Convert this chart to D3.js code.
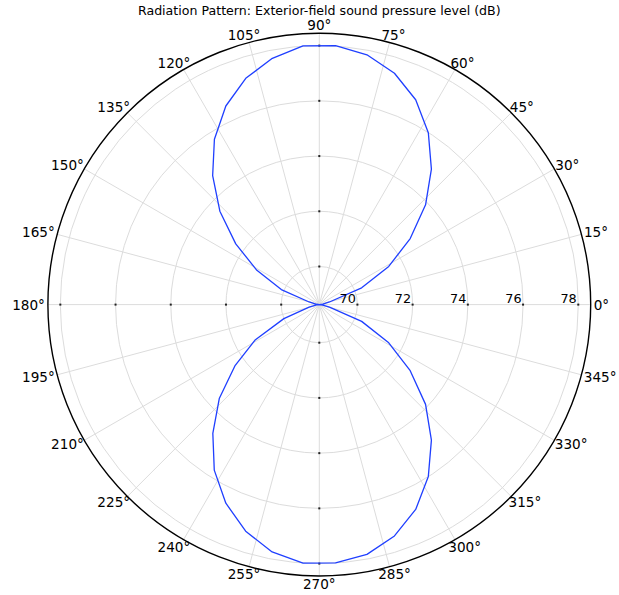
<!DOCTYPE html>
<html>
<head>
<meta charset="utf-8">
<script src="https://cdn.jsdelivr.net/npm/d3@7"></script>
<style>
  html, body { margin: 0; padding: 0; background: #ffffff; }
  svg { display: block; font-family: "DejaVu Sans", sans-serif; }
</style>
</head>
<body>
<svg id="chart" width="619" height="595"></svg>
<script>
// Sampled directions (degrees, counter-clockwise from +x)
const angleDeg = [
  0, 7.2, 14.4, 21.6, 28.8, 36, 43.2, 50.4, 57.6, 64.8, 72, 79.2, 86.4,
  93.6, 100.8, 108, 115.2, 122.4, 129.6, 136.8, 144, 151.2, 158.4, 165.6, 172.8,
  180, 187.2, 194.4, 201.6, 208.8, 216, 223.2, 230.4, 237.6, 244.8, 252, 259.2, 266.4,
  273.6, 280.8, 288, 295.2, 302.4, 309.6, 316.8, 324, 331.2, 338.4, 345.6, 352.8, 360
];

// Exterior-field sound pressure level at each direction (dB)
const splDb = [
  68.62, 68.75, 69.00, 70.27, 71.49, 72.69, 73.90, 74.99, 75.99, 76.82, 77.43, 77.83, 78.02,
  78.01, 77.70, 77.24, 76.57, 75.71, 74.68, 73.56, 72.36, 71.20, 70.10, 69.00, 68.72,
  68.62, 68.72, 69.00, 70.00, 71.26, 72.40, 73.59, 74.67, 75.72, 76.57, 77.25, 77.74, 78.00,
  77.99, 77.83, 77.43, 76.82, 75.99, 74.99, 73.90, 72.69, 71.49, 70.27, 69.00, 68.75, 68.62
];

// Radial axis limits and ticks (dB)
const radialLimits = [68.62, 78.45];
const radialTicks = [70, 72, 74, 76, 78];

// Angular grid / label directions (degrees)
const angleTicks = [0, 15, 30, 45, 60, 75, 90, 105, 120, 135, 150, 165,
                    180, 195, 210, 225, 240, 255, 270, 285, 300, 315, 330, 345];

const titleText = "Radiation Pattern: Exterior-field sound pressure level (dB)";

const svg = d3.select("#chart");
const cx = 319.3, cy = 304.6, R = 271.4;

const r = d3.scaleLinear().domain(radialLimits).range([0, R]);
// compass angle used by d3.lineRadial: 0 at top, clockwise
const toRad = d3.scaleLinear().domain([0, 360]).range([0, 2 * Math.PI]);
const radialAngle = deg => toRad(90 - deg);

const g = svg.append("g").attr("transform", `translate(${cx},${cy})`);

const gridColor = "#dcdcdc";

// concentric rings
g.append("g").selectAll("circle")
  .data(radialTicks)
  .join("circle")
  .attr("r", d => r(d))
  .attr("fill", "none")
  .attr("stroke", gridColor)
  .attr("stroke-width", 1);

// spokes
g.append("g").selectAll("line")
  .data(angleTicks)
  .join("line")
  .attr("x1", 0).attr("y1", 0)
  .attr("x2", d => R * Math.cos(toRad(d)))
  .attr("y2", d => -R * Math.sin(toRad(d)))
  .attr("stroke", gridColor)
  .attr("stroke-width", 1);

// tick marks where rings meet the cardinal axes
const cardinal = [0, 90, 180, 270];
const tickMarks = [];
cardinal.forEach(a => radialTicks.forEach(v => tickMarks.push({ a, v })));
g.append("g").selectAll("rect")
  .data(tickMarks)
  .join("rect")
  .attr("x", d => r(d.v) * Math.cos(toRad(d.a)) - 1)
  .attr("y", d => -r(d.v) * Math.sin(toRad(d.a)) - 1)
  .attr("width", 2).attr("height", 2)
  .attr("fill", "#222");

// the pattern trace
const line = d3.lineRadial()
  .angle((d, i) => radialAngle(angleDeg[i]))
  .radius(d => r(d));
g.append("path")
  .datum(splDb)
  .attr("d", line)
  .attr("fill", "none")
  .attr("stroke", "#1f3fff")
  .attr("stroke-width", 1.3)
  .attr("stroke-linejoin", "round");

// outer boundary
g.append("circle")
  .attr("r", R)
  .attr("fill", "none")
  .attr("stroke", "#000")
  .attr("stroke-width", 1.4);

// radial tick labels, along the 0° direction
g.append("g").selectAll("text")
  .data(radialTicks)
  .join("text")
  .attr("x", d => r(d) - 1.5)
  .attr("y", -2)
  .attr("text-anchor", "end")
  .attr("font-size", "12.8px")
  .attr("fill", "#000")
  .text(d => d);

// angular labels outside the boundary
const angFont = 13.6;
const labels = g.append("g").selectAll("text")
  .data(angleTicks)
  .join("text")
  .attr("font-size", angFont + "px")
  .attr("fill", "#000")
  .attr("text-anchor", "middle")
  .attr("dominant-baseline", "central")
  .text(d => d + "°");
labels.each(function (d) {
  const w = this.getComputedTextLength();
  const h = angFont * 0.73;
  const pad = 3;
  const c = Math.cos(toRad(d)), s = Math.sin(toRad(d));
  const x = (R + pad) * c + c * w / 2;
  const y = -(R + pad) * s - s * h / 2;
  d3.select(this).attr("x", x).attr("y", y);
});

// title
svg.append("text")
  .attr("x", cx)
  .attr("y", 15)
  .attr("text-anchor", "middle")
  .attr("font-size", "12.6px")
  .attr("fill", "#000")
  .text(titleText);
</script>
</body>
</html>
